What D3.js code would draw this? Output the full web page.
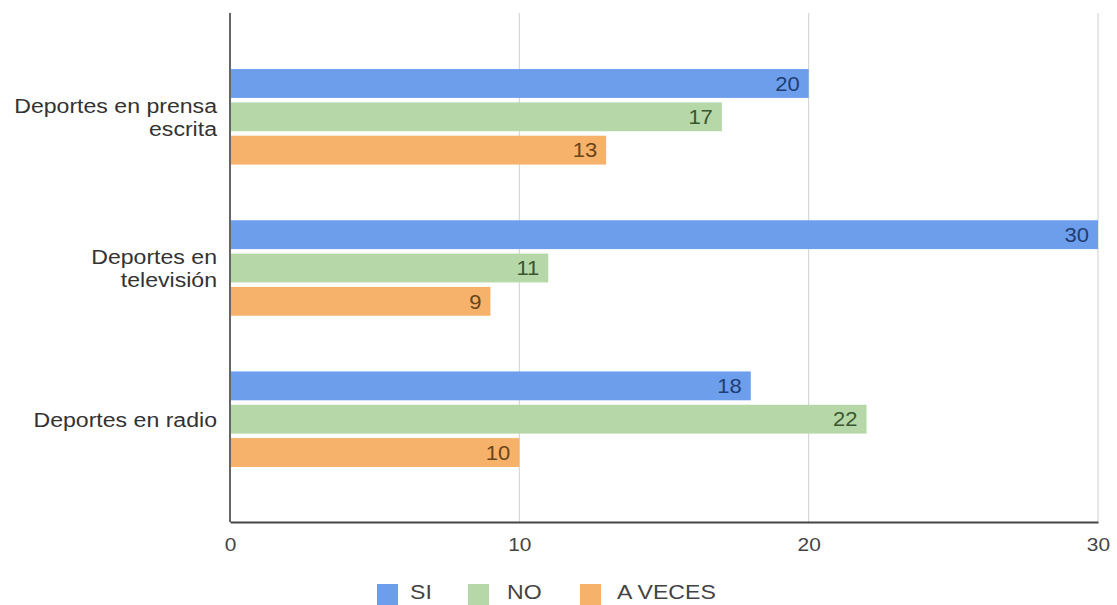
<!DOCTYPE html>
<html>
<head>
<meta charset="utf-8">
<script src="https://cdn.jsdelivr.net/npm/d3@7"></script>
<style>
  html, body { margin: 0; padding: 0; background: #fff; }
  svg { display: block; font-family: "Liberation Sans", Arial, sans-serif; }
</style>
</head>
<body>
<svg id="chart" width="1117" height="605"></svg>
<script>
const categories = ["Deportes en prensa escrita", "Deportes en televisión", "Deportes en radio"];
const categoryLines = [["Deportes en prensa", "escrita"], ["Deportes en", "televisión"], ["Deportes en radio"]];
const seriesNames = ["SI", "NO", "A VECES"];
const siValues = [20, 30, 18];
const noValues = [17, 11, 22];
const aVecesValues = [13, 9, 10];
const xTicks = [0, 10, 20, 30];

const seriesValues = [siValues, noValues, aVecesValues];
const colors = ["#6d9eeb", "#b6d7a8", "#f6b26b"];
const labelColors = ["#1f3d73", "#3a5530", "#6a4418"];
const SX = 1.1; // horizontal text stretch seen in the reference

const svg = d3.select("#chart");
const plotLeft = 230, plotRight = 1098, plotTop = 14, plotBottom = 522;

const x = d3.scaleLinear().domain([0, 30]).range([plotLeft, plotRight]);
const y0 = d3.scaleBand().domain(categories).range([plotTop, plotBottom]).paddingInner(0).paddingOuter(0.18);
const y1 = d3.scaleBand().domain(seriesNames).range([0, y0.bandwidth()]).paddingInner(0.134).paddingOuter(0.836);

// gridlines
svg.append("g")
  .selectAll("line")
  .data(xTicks.filter(d => d > 0))
  .join("line")
  .attr("x1", d => x(d)).attr("x2", d => x(d))
  .attr("y1", 13).attr("y2", plotBottom)
  .attr("stroke", "#d0d0d0").attr("stroke-width", 1);

// bars
const rows = [];
categories.forEach((c, i) => {
  seriesNames.forEach((s, j) => {
    rows.push({ cat: c, ser: s, j, v: seriesValues[j][i] });
  });
});

svg.append("g")
  .selectAll("rect")
  .data(rows)
  .join("rect")
  .attr("x", x(0))
  .attr("y", d => y0(d.cat) + y1(d.ser))
  .attr("width", d => x(d.v) - x(0))
  .attr("height", y1.bandwidth())
  .attr("fill", d => colors[d.j]);

svg.append("g")
  .selectAll("text")
  .data(rows)
  .join("text")
  .attr("transform", d => `translate(${x(d.v) - 9},${y0(d.cat) + y1(d.ser) + y1.bandwidth() / 2}) scale(${SX},1)`)
  .attr("dy", "0.36em")
  .attr("text-anchor", "end")
  .style("font-size", "20px")
  .attr("fill", d => labelColors[d.j])
  .text(d => d.v);

// vertical axis line
svg.append("line")
  .attr("x1", plotLeft).attr("x2", plotLeft)
  .attr("y1", 13).attr("y2", plotBottom)
  .attr("stroke", "#666").attr("stroke-width", 2);

const xAxis = d3.axisBottom(x).tickValues(xTicks).tickSize(0).tickPadding(0);
const gx = svg.append("g").attr("transform", `translate(0,${plotBottom})`).call(xAxis);
gx.attr("font-size", null).attr("font-family", null);
gx.select(".domain").attr("stroke", "#444").attr("stroke-width", 2);
gx.selectAll(".tick text")
  .attr("y", null).attr("dy", "0.36em")
  .attr("transform", `translate(0,22) scale(${SX},1)`)
  .style("font-size", "19px")
  .style("font-family", "'Liberation Sans', Arial, sans-serif")
  .attr("fill", "#444");

// category labels
categories.forEach((c, i) => {
  const lines = categoryLines[i];
  const cy = y0(c) + y0.bandwidth() / 2;
  const lh = 23;
  lines.forEach((ln, k) => {
    svg.append("text")
      .attr("transform", `translate(217,${cy + (k - (lines.length - 1) / 2) * lh}) scale(${SX},1)`)
      .attr("dy", "0.36em")
      .attr("text-anchor", "end")
      .style("font-size", "21px")
      .attr("fill", "#333")
      .text(ln);
  });
});

// legend
const legendX = [377, 468, 580];
const legendTextX = [410, 507, 617];
const lg = svg.append("g");
seriesNames.forEach((s, j) => {
  lg.append("rect")
    .attr("x", legendX[j]).attr("y", 584)
    .attr("width", 21).attr("height", 21)
    .attr("fill", colors[j]);
  lg.append("text")
    .attr("transform", `translate(${legendTextX[j]},591) scale(${SX},1)`)
    .attr("dy", "0.36em")
    .style("font-size", "21px")
    .attr("fill", "#444")
    .text(s);
});
</script>
</body>
</html>
